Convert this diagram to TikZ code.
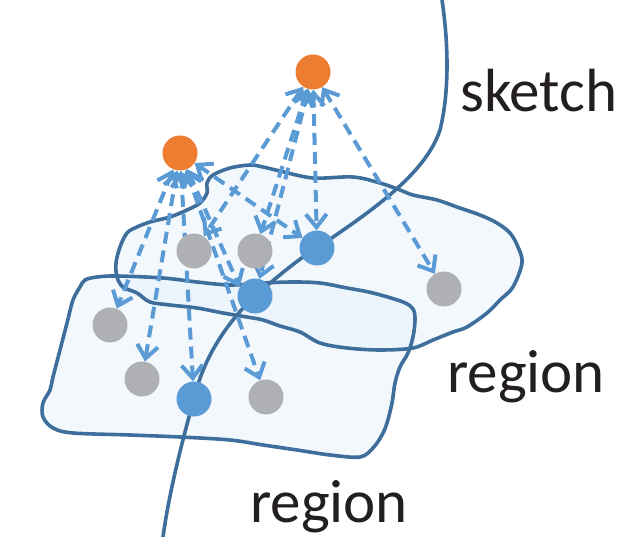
\documentclass[tikz,border=0pt]{standalone}
\usepackage{fontspec}
\setmainfont{Carlito}
\usepackage{xcolor}
\usepackage{tikz}
\usetikzlibrary{arrows.meta, backgrounds}
\definecolor{nodeorange}{RGB}{237,125,49}
\definecolor{nodeblue}{RGB}{91,155,213}
\definecolor{nodegray}{RGB}{175,176,179}
\definecolor{outlineblue}{RGB}{62,110,155}
\definecolor{regionfill}{RGB}{226,238,251}
\definecolor{labelblack}{RGB}{35,31,32}
\tikzstyle{querynode} = [circle, minimum size=35pt, inner sep=0pt, fill=nodeorange]
\tikzstyle{sketchnode} = [circle, minimum size=35pt, inner sep=0pt, fill=nodeblue]
\tikzstyle{regionnode} = [circle, minimum size=35pt, inner sep=0pt, fill=nodegray]
\tikzstyle{regionfilling} = [fill=regionfill, fill opacity=0.4]
\tikzstyle{regionoutline} = [draw=outlineblue, line width=3.6pt]
\tikzstyle{sketchline} = [draw=outlineblue, line width=3.6pt]
\tikzstyle{dasharrow} = [draw=nodeblue, line width=4pt, dash pattern=on 12pt off 7pt, <->, >={Straight Barb[length=13pt,width=21pt]}]
\tikzstyle{labeltext} = [anchor=base west, inner sep=0pt, text=labelblack, font=\fontsize{61}{72}\selectfont]

\begin{document}
\begin{tikzpicture}[x=1pt, y=-1pt]
			\useasboundingbox (0,0) rectangle (637,537);
			
			\node (query_top) [querynode] at (313,72) {};
			\node (query_left) [querynode] at (180,153) {};
			
			\node (sketch_pt_a) [sketchnode] at (317,248) {};
			\node (sketch_pt_b) [sketchnode] at (255,296) {};
			\node (sketch_pt_c) [sketchnode] at (194,399) {};
			
			\node (region_pt_a) [regionnode] at (194,251) {};
			\node (region_pt_b) [regionnode] at (255,251) {};
			\node (region_pt_c) [regionnode] at (444,289) {};
			\node (region_pt_d) [regionnode] at (110,325) {};
			\node (region_pt_e) [regionnode] at (142,379) {};
			\node (region_pt_f) [regionnode] at (266,397) {};
			
			\node (label_sketch) [labeltext] at (460,112) {sketch};
			\node (label_region_right) [labeltext] at (447,392) {region};
			\node (label_region_low) [labeltext] at (250,522) {region};
			
			\coordinate (sketch_top) at (442,0);
			\coordinate (sketch_bend) at (440,130);
			\coordinate (sketch_bottom) at (163,537);
			
			\begin{scope}[on background layer]
			% regions
			\path [save path=\upperregion] plot [smooth cycle, tension=0.55] coordinates {(250,165) (263,167) (280,171) (313,178) (353,177) (380,183) (400,190) (413,195) (437,200) (457,207) (480,215) (497,223) (510,233) (518,247) (522,263) (513,287) (500,300) (487,313) (467,327) (453,332) (433,340) (413,348) (380,350) (347,348) (320,343) (300,332) (280,326) (263,320) (247,317) (223,313) (197,308) (170,305) (150,302) (137,293) (123,287) (117,277) (116,263) (120,247) (127,233) (137,227) (150,222) (170,217) (187,210) (200,203) (207,193) (207,183) (213,175) (230,168)};
			\path [save path=\lowerregion] plot [smooth cycle, tension=0.55] coordinates {(85,280) (97,277) (117,276) (163,278) (197,282) (230,285) (263,283) (293,282) (320,283) (347,288) (373,293) (403,302) (413,309) (415,320) (413,337) (408,353) (400,367) (395,383) (392,403) (387,423) (382,435) (373,448) (360,457) (330,455) (297,450) (263,445) (230,440) (180,437) (130,435) (73,433) (53,428) (43,417) (43,403) (50,390) (53,377) (60,350) (67,323) (73,300) (80,287)};
			\fill [regionfilling, use path=\upperregion];
			\fill [regionfilling, use path=\lowerregion];
			\draw [regionoutline, use path=\upperregion];
			\draw [regionoutline, use path=\lowerregion];
			
			% sketch
			\draw [sketchline] (sketch_top) .. controls (448,40) and (450,90) .. (sketch_bend) .. controls (425,175) and (370,212) .. (sketch_pt_a.center) .. controls (299,258) and (270,283) .. (sketch_pt_b.center) .. controls (235,315) and (205,350) .. (sketch_pt_c.center) .. controls (188,420) and (170,485) .. (sketch_bottom);
			
			\draw [dasharrow] (query_top) -- (region_pt_a);
			\draw [dasharrow] (query_top) -- (region_pt_b);
			\draw [dasharrow] (query_top) -- (sketch_pt_b);
			\draw [dasharrow] (query_top) -- (sketch_pt_a);
			\draw [dasharrow] (query_top) -- (region_pt_c);
			
			\draw [dasharrow] (query_left) -- (region_pt_d);
			\draw [dasharrow] (query_left) -- (region_pt_e);
			\draw [dasharrow] (query_left) -- (sketch_pt_c);
			\draw [dasharrow] (query_left) -- (sketch_pt_b.150);
			\draw [dasharrow] (query_left) -- (region_pt_f);
			\draw [dasharrow] (query_left) -- (sketch_pt_a);
			\end{scope}
			
		\end{tikzpicture}
\end{document}
